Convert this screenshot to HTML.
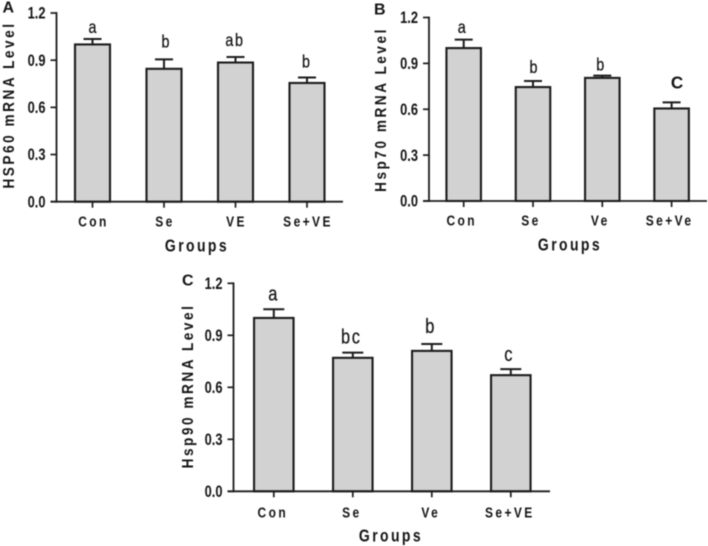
<!DOCTYPE html>
<html>
<head>
<meta charset="utf-8">
<style>
html,body{margin:0;padding:0;background:#fff;width:708px;height:546px;overflow:hidden}
svg{display:block;filter:blur(0.4px)}
text{font-family:"Liberation Sans",Arial,sans-serif;fill:#141414}
</style>
</head>
<body>
<svg id="fig" xmlns="http://www.w3.org/2000/svg" width="708" height="546" viewBox="0 0 708 546"></svg>
<script>
var yTickLabels = ["0.0", "0.3", "0.6", "0.9", "1.2"];
var yTickValues = [0, 0.3, 0.6, 0.9, 1.2];

var categoriesA = ["Con", "Se", "VE", "Se+VE"];
var meansA = [1.0, 0.845, 0.885, 0.755];
var errorsA = [0.035, 0.06, 0.035, 0.035];
var lettersA = ["a", "b", "ab", "b"];

var categoriesB = ["Con", "Se", "Ve", "Se+Ve"];
var meansB = [1.0, 0.745, 0.805, 0.605];
var errorsB = [0.055, 0.04, 0.015, 0.04];
var lettersB = ["a", "b", "b", "C"];

var categoriesC = ["Con", "Se", "Ve", "Se+VE"];
var meansC = [1.0, 0.77, 0.81, 0.67];
var errorsC = [0.05, 0.03, 0.04, 0.035];
var lettersC = ["a", "bc", "b", "c"];

var NS = "http://www.w3.org/2000/svg";
var fig = document.getElementById("fig");

function make(parent, tag, attrs, txt) {
  var n = document.createElementNS(NS, tag);
  for (var k in attrs) n.setAttribute(k, attrs[k]);
  if (txt !== undefined) n.textContent = txt;
  parent.appendChild(n);
  return n;
}

function drawPanel(p) {
  var g = make(fig, "g", {});
  
  

  function yScale(v) { return p.y0 - (v / 1.2) * (p.y0 - p.y12); }
  function xCenter(i) { return p.x0 + p.step * i; }

  var ink = "#1c1c1c";

  var tag = make(g, "text", {x: p.tagX, y: p.tagY, "font-size": 16, "font-weight": "bold"}, p.id);
  
  

  for (var i = 0; i < p.categories.length; i++) {
    var cx = xCenter(i);
    var top = yScale(p.means[i]);
    var errTop = yScale(p.means[i] + p.errors[i]);
    var w = p.barW;

    var eg = make(g, "g", {stroke: ink, "stroke-width": 2, fill: "none"});
    
    
    make(eg, "line", {x1: cx, x2: cx, y1: top, y2: errTop});
    make(eg, "line", {x1: cx - p.capW, x2: cx + p.capW, y1: errTop, y2: errTop});

    var bar = make(g, "rect", {x: cx - w / 2, y: top, width: w, height: p.y0 - top, fill: "#d2d2d2", stroke: ink, "stroke-width": 2.1});
    
    

    var tick = make(g, "line", {x1: cx, x2: cx, y1: p.y0, y2: p.y0 + 6, stroke: ink, "stroke-width": 1.7});
    
    

    var cat = make(g, "text", {
      "text-anchor": "middle",
      transform: "translate(" + (cx + p.catDx + 1) + "," + p.catY + ") scale(0.8,1)",
      "font-size": 15,
      "font-weight": "bold",
      "letter-spacing": 3
    }, p.categories[i]);
    
    

    var big = p.letters[i] === "C";
    var lx = cx + p.letterDx[i];
    var ly = errTop - p.letterGap[i];
    var lt = make(g, "text", {
      "text-anchor": "middle",
      transform: "translate(" + lx + "," + ly + ") scale(" + (big ? 0.95 : 0.82) + ",1)",
      "font-size": big ? 18 : p.letterSize,
      "font-weight": big ? "bold" : "normal",
      stroke: "#141414",
      "stroke-width": big ? 0 : 0.25,
      "letter-spacing": p.letters[i].length > 1 ? 2 : 0
    }, p.letters[i]);
    
    
  }

  var yAxis = make(g, "line", {x1: p.axisX, x2: p.axisX, y1: p.y12 - 0.9, y2: p.y0 + 0.9, stroke: ink, "stroke-width": 1.8});
  
  

  var xAxis = make(g, "line", {x1: p.axisX - 6, x2: p.axisEnd, y1: p.y0, y2: p.y0, stroke: ink, "stroke-width": 1.8});
  
  

  for (var t = 0; t < yTickValues.length; t++) {
    var ty = yScale(yTickValues[t]);
    var yt = make(g, "line", {x1: p.axisX - 6, x2: p.axisX, y1: ty, y2: ty, stroke: ink, "stroke-width": 1.7});
    
    
    var yl = make(g, "text", {
      "text-anchor": "end",
      transform: "translate(" + (p.axisX - 11) + "," + (ty + 5.7) + ") scale(0.78,1)",
      "font-size": 16.5,
      "font-weight": "bold"
    }, yTickLabels[t]);
    
    
  }

  var yTitle = make(g, "text", {
    "text-anchor": "middle",
    transform: "translate(" + p.titleX + "," + p.titleY + ") rotate(-90) scale(0.85,1)",
    "font-size": 16,
    "font-weight": "bold",
    "letter-spacing": 3
  }, p.yTitle);
  
  

  var xTitle = make(g, "text", {
    "text-anchor": "middle",
    transform: "translate(" + p.groupsX + "," + p.groupsY + ") scale(0.8,1)",
    "font-size": 17.5,
    "font-weight": "bold",
    "letter-spacing": 3
  }, "Groups");
  
  
}

drawPanel({
  id: "A", categories: categoriesA, means: meansA, errors: errorsA, letters: lettersA,
  yTitle: "HSP60 mRNA Level",
  axisX: 56.5, axisEnd: 343, y0: 201.7, y12: 13, x0: 92.5, step: 71.5, barW: 35, capW: 9,
  tagX: 2.5, tagY: 12.5, catY: 226.7, catDx: 0, titleX: 14, titleY: 105, groupsX: 197, groupsY: 251.5,
  letterSize: 17.5, letterDx: [0, 1.5, -0.5, -1], letterGap: [6, 12, 11, 10]
});
drawPanel({
  id: "B", categories: categoriesB, means: meansB, errors: errorsB, letters: lettersB,
  yTitle: "Hsp70 mRNA Level",
  axisX: 429, axisEnd: 707, y0: 201, y12: 17.5, x0: 463.7, step: 69.3, barW: 34.5, capW: 9,
  tagX: 374, tagY: 14.5, catY: 225.7, catDx: -3, titleX: 386, titleY: 109.5, groupsX: 570, groupsY: 250.5,
  letterSize: 17.5, letterDx: [-2, 0.5, -2, 5.5], letterGap: [6.5, 8, 5, 14]
});
drawPanel({
  id: "C", categories: categoriesC, means: meansC, errors: errorsC, letters: lettersC,
  yTitle: "Hsp90 mRNA Level",
  axisX: 233.5, axisEnd: 550, y0: 491.3, y12: 283.3, x0: 273.8, step: 79, barW: 39.5, capW: 10.5,
  tagX: 182, tagY: 285.5, catY: 517.5, catDx: -2, titleX: 193, titleY: 386, groupsX: 391, groupsY: 541.5,
  letterSize: 20, letterDx: [-1, -1.5, -2, -2.5], letterGap: [9, 9, 11, 8]
});
</script>
</body>
</html>
